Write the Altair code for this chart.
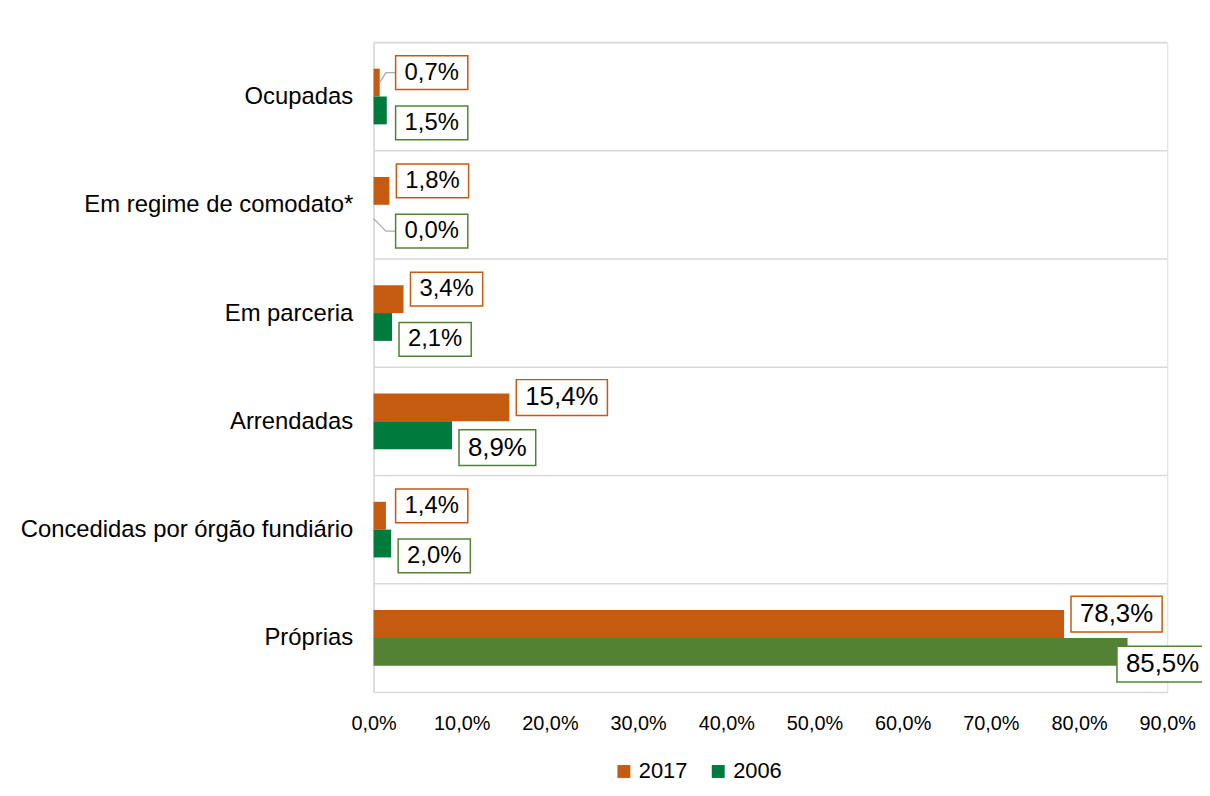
import json
import altair as alt
import pandas as pd

# ---- data ----
categories = ["Ocupadas", "Em regime de comodato*", "Em parceria", "Arrendadas",
              "Concedidas por órgão fundiário\u00a0", "Próprias"]
years = ["2017", "2006"]
values_2017 = [0.7, 1.8, 3.4, 15.4, 1.4, 78.3]
values_2006 = [1.5, 0.0, 2.1, 8.9, 2.0, 85.5]
x_ticks = [0, 10, 20, 30, 40, 50, 60, 70, 80, 90]

n = len(categories)
rows = []
for i, c in enumerate(categories):
    rows.append({"cat": c, "idx": i, "year": "2017", "value": values_2017[i]})
    rows.append({"cat": c, "idx": i, "year": "2006", "value": values_2006[i]})
df = pd.DataFrame(rows)
bounds = pd.DataFrame({"b": list(range(1, n + 1))})

W, H = 799, 654
PX_X = W / 90.0
PX_Y = H / n
FONT = "Liberation Sans"
GAP = 7 / PX_X

base = alt.Chart(df).transform_calculate(
    pos=f"{n - 0.5} - datum.idx",
    sgn="datum.year == '2017' ? 1 : -1",
    zero="0",
).transform_calculate(
    b0="datum.pos",
    b1=f"datum.pos + datum.sgn * {28 / PX_Y}",
    bmid=f"datum.pos + datum.sgn * {14 / PX_Y}",
    lab="replace(format(datum.value, '.1f'), '.', ',') + '%'",
    fs="datum.value >= 5 ? 26 : 24",
    em="((datum.value >= 10 ? 2 : 1) + 1) * 0.556 + 1.167",
    lc=f"datum.pos + (datum.sgn == 1 ? {24 / PX_Y} : {-26.5 / PX_Y})",
).transform_calculate(
    bw=f"(datum.fs * datum.em + 18) / {PX_X}",
    bh=f"(datum.fs + 10) / {PX_Y}",
).transform_calculate(
    bx0=(f"(datum.value + {GAP} + datum.bw <= 95) ? max(datum.value + {GAP}, 2.5)"
         f" : datum.value - 1.2"),
).transform_calculate(
    bx1="datum.bx0 + datum.bw",
    tx="datum.bx0 + datum.bw / 2",
    by0="datum.lc - datum.bh / 2",
    by1="datum.lc + datum.bh / 2",
    lk="datum.bx0 - 1.1",
)

xscale = alt.Scale(domain=[0, 90], nice=False, zero=True)
yscale = alt.Scale(domain=[0, n], nice=False, zero=False)

label_expr = json.dumps(categories, ensure_ascii=False) + f"[round({n - 0.5} - datum.value)]"

bars = base.mark_rect().encode(
    x=alt.X("zero:Q", scale=xscale,
            axis=alt.Axis(values=x_ticks, title=None, grid=False, ticks=False,
                          labelExpr="replace(format(datum.value, '.1f'), '.', ',') + '%'",
                          labelFontSize=20, labelPadding=22, labelColor="#000000",
                          labelFont=FONT, domainColor="#D9D9D9", domainWidth=1.5,
                          labelFlush=False, labelOverlap=False)),
    x2="value:Q",
    y=alt.Y("b0:Q", scale=yscale,
            axis=alt.Axis(values=[k + 0.5 for k in range(n)], title=None, grid=False,
                          ticks=False, labelExpr=label_expr, labelFontSize=24,
                          labelPadding=21, labelColor="#000000", labelFont=FONT,
                          labelLimit=0, labelFlush=False, labelOverlap=False,
                          domainColor="#D9D9D9", domainWidth=1.5)),
    y2="b1:Q",
    color=alt.condition(
        "datum.cat == 'Próprias' && datum.year == '2006'",
        alt.value("#548235"),
        alt.Color("year:N",
                  scale=alt.Scale(domain=years, range=["#C55A11", "#007A3D"]),
                  legend=alt.Legend(title=None, orient="none", legendX=241, legendY=723,
                                    direction="horizontal", symbolType="square",
                                    symbolSize=169, symbolStrokeWidth=0,
                                    labelFontSize=22, labelFont=FONT, labelColor="#000000",
                                    labelOffset=4, columnPadding=20)),
    ),
)

grid = alt.Chart(bounds).mark_rule(color="#D9D9D9", strokeWidth=1.5).encode(
    y=alt.Y("b:Q", scale=yscale)
)

leader_filter = "datum.bx0 - datum.value > 1.5"
leader_diag = base.transform_filter(leader_filter).mark_rule(
    color="#A6A6A6", strokeWidth=1.2).encode(
    x=alt.X("value:Q", scale=xscale), x2="lk:Q",
    y=alt.Y("bmid:Q", scale=yscale), y2="lc:Q",
)
leader_flat = base.transform_filter(leader_filter).mark_rule(
    color="#A6A6A6", strokeWidth=1.2).encode(
    x=alt.X("lk:Q", scale=xscale), x2="bx0:Q",
    y=alt.Y("lc:Q", scale=yscale),
)

boxes = base.mark_rect(fill="white", strokeWidth=1.5).encode(
    x=alt.X("bx0:Q", scale=xscale),
    x2="bx1:Q",
    y=alt.Y("by0:Q", scale=yscale),
    y2="by1:Q",
    stroke=alt.Stroke("year:N", scale=alt.Scale(domain=years, range=["#C55A11", "#548235"]),
                      legend=None),
)

texts = base.mark_text(font=FONT, color="#000000", align="center", baseline="middle").encode(
    x=alt.X("tx:Q", scale=xscale),
    y=alt.Y("lc:Q", scale=yscale),
    text="lab:N",
    size=alt.Size("fs:Q", scale=None, legend=None),
)

chart = alt.layer(grid, bars, leader_diag, leader_flat, boxes, texts).properties(
    width=W, height=H,
    autosize=alt.AutoSizeParams(type="none"),
    padding={"left": 368, "top": 32, "right": 35, "bottom": 94},
).configure_view(stroke=None).configure(font=FONT)

chart.save("out.html", embed_options={"renderer": "svg", "actions": False})
